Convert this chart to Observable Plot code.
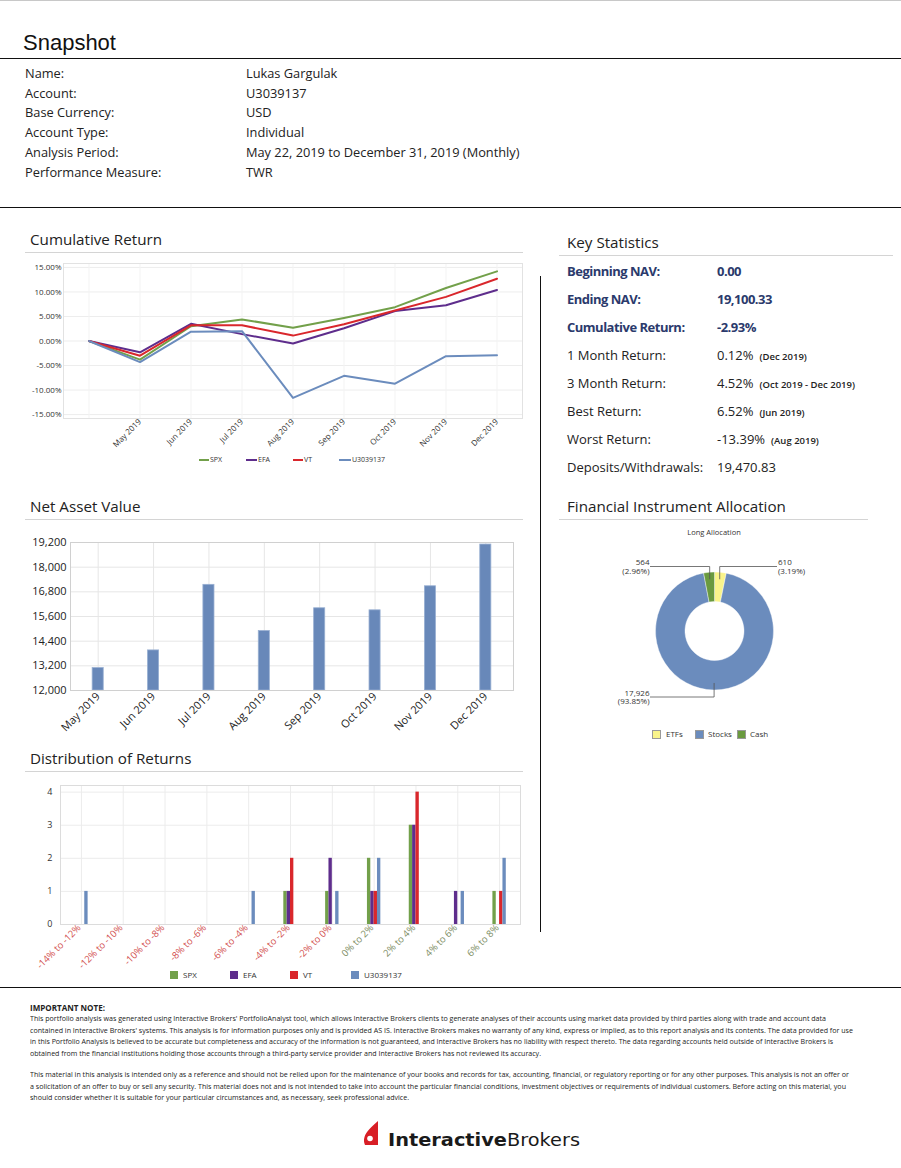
<!DOCTYPE html>
<html><head><meta charset="utf-8">
<script src="https://cdn.jsdelivr.net/npm/d3@7"></script>
<script src="https://cdn.jsdelivr.net/npm/@observablehq/plot@0.6"></script>
<style>
html,body{margin:0;padding:0;background:#fff}
body{width:901px;height:1168px;position:relative;overflow:hidden;font-family:"Open Sans",sans-serif;color:#222}
.a{position:absolute;white-space:nowrap}
.hr{position:absolute;left:0;width:901px;height:1px;background:#111}
.sec{position:absolute;font-size:15.2px;line-height:20px;color:#222;white-space:nowrap}
.ul{position:absolute;height:1px;background:#d4d4d4}
.row{position:absolute;font-size:12.8px;line-height:20px;white-space:nowrap}
.ks{position:absolute;font-size:13px;line-height:28px;white-space:nowrap}
.ks.b{font-weight:700;color:#2b3a6c;letter-spacing:-0.5px}
.sm{font-size:9.5px;font-weight:600;margin-left:6px;letter-spacing:0}
.note{position:absolute;left:30px;font-size:7.5px;line-height:11px;white-space:nowrap;transform-origin:0 50%;color:#222}
.lg{position:absolute;white-space:nowrap;color:#333}
</style></head><body>
<div class="a" style="left:0;top:0;width:901px;height:1px;background:#c8c8c8"></div>
<div class="a" style="left:23px;top:29.5px;font-family:'Liberation Sans',Arial,sans-serif;font-size:22px;line-height:26px;color:#111">Snapshot</div>
<div class="hr" style="top:58px"></div>
<div class="hr" style="top:207px"></div>
<div class="hr" style="top:987px"></div>
<div class="a" style="left:540px;top:276px;width:1px;height:656px;background:#111"></div>

<div class="sec" style="left:30px;top:228.5px">Cumulative Return</div>
<div class="ul" style="left:25px;top:252px;width:498px"></div>
<div class="sec" style="left:30px;top:495.5px">Net Asset Value</div>
<div class="ul" style="left:25px;top:519px;width:498px"></div>
<div class="sec" style="left:30px;top:747.5px">Distribution of Returns</div>
<div class="ul" style="left:25px;top:771px;width:498px"></div>
<div class="sec" style="left:567px;top:231.5px">Key Statistics</div>
<div class="ul" style="left:559px;top:255px;width:334px"></div>
<div class="sec" style="left:567px;top:495.5px">Financial Instrument Allocation</div>
<div class="ul" style="left:559px;top:519px;width:309px"></div>

<div id="cum" class="a" style="left:20px;top:255px"></div>
<div id="nav" class="a" style="left:20px;top:530px"></div>
<div id="dist" class="a" style="left:20px;top:780px"></div>
<div id="pie" class="a" style="left:555px;top:520px"></div>
<div class="a" style="left:674px;top:527px;width:80px;text-align:center;font-size:7.5px;line-height:10px;color:#333">Long Allocation</div>

<svg class="a" style="left:362px;top:1121px" width="18" height="24" viewBox="0 0 18 24">
<path d="M16 0 C10 5 4 11 2.5 16 C1.5 19 2 22 3 24 L16 24 Z" fill="#d81e26"/>
<circle cx="8" cy="17.5" r="2.8" fill="#fff"/>
</svg>
<div id="logo" class="a" style="left:388px;top:1130px;font-family:'DejaVu Sans',sans-serif;font-size:17.5px;line-height:20px;color:#1a1a1a;transform-origin:0 50%"><b>Interactive</b>Brokers</div>

<script>
// ---------- DATA ----------
const infoLabels = ["Name:", "Account:", "Base Currency:", "Account Type:", "Analysis Period:", "Performance Measure:"];
const infoValues = ["Lukas Gargulak", "U3039137", "USD", "Individual", "May 22, 2019 to December 31, 2019 (Monthly)", "TWR"];

const statLabels = ["Beginning NAV:", "Ending NAV:", "Cumulative Return:", "1 Month Return:", "3 Month Return:", "Best Return:", "Worst Return:", "Deposits/Withdrawals:"];
const statValues = ["0.00", "19,100.33", "-2.93%", "0.12%", "4.52%", "6.52%", "-13.39%", "19,470.83"];
const statNotes = ["", "", "", "(Dec 2019)", "(Oct 2019 - Dec 2019)", "(Jun 2019)", "(Aug 2019)", ""];

const seriesNames = ["SPX", "EFA", "VT", "U3039137"];
const seriesColors = ["#72a04a", "#5e2d8c", "#d9272c", "#6b8cbd"];

const cumPeriods = ["Start", "May 2019", "Jun 2019", "Jul 2019", "Aug 2019", "Sep 2019", "Oct 2019", "Nov 2019", "Dec 2019"];
const spxCum = [0, -3.8, 3.0, 4.4, 2.7, 4.7, 6.9, 10.8, 14.2];
const efaCum = [0, -2.3, 3.5, 1.4, -0.5, 2.6, 6.1, 7.3, 10.4];
const vtCum = [0, -3.0, 3.2, 3.2, 1.1, 3.4, 6.2, 9.0, 12.7];
const acctCum = [0, -4.3, 1.9, 2.0, -11.6, -7.1, -8.7, -3.1, -2.9];
const cumTicks = [-15, -10, -5, 0, 5, 10, 15];

const navMonths = ["May 2019", "Jun 2019", "Jul 2019", "Aug 2019", "Sep 2019", "Oct 2019", "Nov 2019", "Dec 2019"];
const navValues = [13090, 13950, 17140, 14890, 16000, 15900, 17070, 19100];
const navTicks = [12000, 13200, 14400, 15600, 16800, 18000, 19200];

const distBins = ["-14% to -12%", "-12% to -10%", "-10% to -8%", "-8% to -6%", "-6% to -4%", "-4% to -2%", "-2% to 0%", "0% to 2%", "2% to 4%", "4% to 6%", "6% to 8%"];
const distSPX = [0, 0, 0, 0, 0, 1, 1, 2, 3, 0, 1];
const distEFA = [0, 0, 0, 0, 0, 1, 2, 1, 3, 1, 0];
const distVT = [0, 0, 0, 0, 0, 2, 0, 1, 4, 0, 1];
const distAcct = [1, 0, 0, 0, 1, 0, 1, 2, 0, 1, 2];
const distTicks = [0, 1, 2, 3, 4];

const allocNames = ["ETFs", "Stocks", "Cash"];
const allocValues = [610, 17926, 564];
const allocPct = ["3.19%", "93.85%", "2.96%"];
const allocColors = ["#f9f48b", "#6b8cbd", "#6a9a3f"];

const noteTitle = "IMPORTANT NOTE:";
const noteLines = [
  "This portfolio analysis was generated using Interactive Brokers' PortfolioAnalyst tool, which allows Interactive Brokers clients to generate analyses of their accounts using market data provided by third parties along with trade and account data",
  "contained in Interactive Brokers' systems. This analysis is for information purposes only and is provided AS IS. Interactive Brokers makes no warranty of any kind, express or implied, as to this report analysis and its contents. The data provided for use",
  "in this Portfolio Analysis is believed to be accurate but completeness and accuracy of the information is not guaranteed, and Interactive Brokers has no liability with respect thereto. The data regarding accounts held outside of Interactive Brokers is",
  "obtained from the financial institutions holding those accounts through a third-party service provider and Interactive Brokers has not reviewed its accuracy.",
  "This material in this analysis is intended only as a reference and should not be relied upon for the maintenance of your books and records for tax, accounting, financial, or regulatory reporting or for any other purposes. This analysis is not an offer or",
  "a solicitation of an offer to buy or sell any security. This material does not and is not intended to take into account the particular financial conditions, investment objectives or requirements of individual customers. Before acting on this material, you",
  "should consider whether it is suitable for your particular circumstances and, as necessary, seek professional advice."
];

// ---------- LAYOUT HELPERS ----------
const FONT = "'Open Sans', sans-serif";
function add(html, cls, style) {
  const d = document.createElement("div");
  d.className = cls; d.style.cssText = style; d.innerHTML = html;
  document.body.appendChild(d); return d;
}

infoLabels.forEach((t, i) => {
  const top = 62.6 + 19.9 * i;
  add(t, "row", `left:25px;top:${top}px`);
  add(infoValues[i], "row", `left:246px;top:${top}px`);
});

statLabels.forEach((t, i) => {
  const top = 256.6 + 28 * i;
  const bold = i < 3 ? " b" : "";
  add(t, "ks" + bold, `left:567px;top:${top}px`);
  add(statValues[i] + (statNotes[i] ? `<span class="sm">${statNotes[i]}</span>` : ""), "ks" + bold, `left:717px;top:${top}px`);
});

// ---------- CUMULATIVE RETURN ----------
const cumSeries = [spxCum, efaCum, vtCum, acctCum];
const cumData = [];
cumSeries.forEach((arr, s) => arr.forEach((v, j) => cumData.push({series: seriesNames[s], period: cumPeriods[j], value: v})));
document.getElementById("cum").appendChild(Plot.plot({
  width: 510, height: 215, marginTop: 8, marginRight: 8, marginBottom: 52, marginLeft: 43,
  style: {fontFamily: FONT, fontSize: "8px", color: "#333", background: "transparent"},
  x: {type: "point", domain: cumPeriods, padding: 0.5, round: false, label: null, tickSize: 0, tickPadding: 2, tickRotate: -45,
      tickFormat: d => d === cumPeriods[0] ? "" : d},
  y: {domain: [-15.8, 15.8], ticks: cumTicks, tickFormat: d => d.toFixed(2) + "%", label: null, tickSize: 0, tickPadding: 2},
  color: {domain: seriesNames, range: seriesColors},
  marks: [
    Plot.ruleY(cumTicks, {stroke: "#ededed"}),
    Plot.ruleX(cumPeriods, {stroke: "#f3f3f3"}),
    Plot.frame({stroke: "#e2e2e2"}),
    Plot.line(cumData, {x: "period", y: "value", z: "series", stroke: "series", strokeWidth: 2})
  ]
}));
const cumLegendPos = [[199, 210], [246, 258], [293, 304], [339, 352]];
seriesNames.forEach((s, i) => {
  const [lx, tx] = cumLegendPos[i];
  add("", "lg", `left:${lx}px;top:458.5px;width:${tx - lx - 1}px;height:2px;background:${seriesColors[i]}`);
  add(s, "lg", `left:${tx}px;top:454.5px;font-size:7px;line-height:10px`);
});

// ---------- NET ASSET VALUE ----------
const navData = navMonths.map((m, i) => ({month: m, value: navValues[i]}));
document.getElementById("nav").appendChild(Plot.plot({
  width: 500, height: 230, marginTop: 12, marginRight: 7, marginBottom: 70, marginLeft: 50,
  style: {fontFamily: FONT, fontSize: "11px", color: "#222", background: "transparent"},
  x: {type: "band", domain: navMonths, paddingInner: 0.8, paddingOuter: 0.4, round: false, label: null, tickSize: 0, tickPadding: 4, tickRotate: -45},
  y: {domain: [12000, 19200], ticks: navTicks, tickFormat: d3.format(","), label: null, tickSize: 0, tickPadding: 4},
  marks: [
    Plot.ruleY(navTicks, {stroke: "#e6e6e6"}),
    Plot.ruleX(navMonths, {stroke: "#e6e6e6"}),
    Plot.barY(navData, {x: "month", y1: 12000, y2: "value", fill: "#6888b9", stroke: "#98afd2", strokeWidth: 0.8}),
    Plot.frame({stroke: "#d0d0d0"})
  ]
}));

// ---------- DISTRIBUTION OF RETURNS ----------
const distSeries = [distSPX, distEFA, distVT, distAcct];
const distData = [];
distSeries.forEach((arr, s) => arr.forEach((v, j) => distData.push({series: seriesNames[s], bin: distBins[j], count: v})));
const distW = 460, barPad = 0.92;
const barW = distW / distBins.length * (1 - barPad);
const negBins = distBins.filter(b => b.startsWith("-"));
const posBins = distBins.filter(b => !b.startsWith("-"));
document.getElementById("dist").appendChild(Plot.plot({
  width: 510, height: 194, marginTop: 5, marginRight: 10, marginBottom: 50, marginLeft: 40,
  style: {fontFamily: FONT, fontSize: "9px", color: "#333", background: "transparent"},
  x: {type: "band", domain: distBins, paddingInner: barPad, paddingOuter: barPad / 2, round: false, axis: null},
  y: {domain: [0, 4.2], ticks: distTicks, tickFormat: d3.format("d"), label: null, tickSize: 0, tickPadding: 8},
  marks: [
    Plot.ruleY(distTicks, {stroke: "#ececec"}),
    Plot.ruleX(distBins, {stroke: "#ececec"}),
    ...seriesNames.map((s, i) => Plot.barY(distData.filter(d => d.series === s && d.count > 0),
      {x: "bin", y: "count", fill: seriesColors[i], dx: (i - 1.5) * barW})),
    Plot.text(negBins, {x: d => d, text: d => d, frameAnchor: "bottom", rotate: -45, textAnchor: "end", dy: 4, dx: 0, fill: "#d2504f", fontSize: 9.5}),
    Plot.text(posBins, {x: d => d, text: d => d, frameAnchor: "bottom", rotate: -45, textAnchor: "end", dy: 4, dx: 0, fill: "#7c8c62", fontSize: 9.5}),
    Plot.frame({stroke: "#dcdcdc"})
  ]
}));
const distLegendPos = [[170, 183], [230, 243], [290, 303], [351, 364]];
seriesNames.forEach((s, i) => {
  const [sx, tx] = distLegendPos[i];
  add("", "lg", `left:${sx}px;top:971px;width:8px;height:8px;background:${seriesColors[i]}`);
  add(s, "lg", `left:${tx}px;top:970px;font-size:8px;line-height:10px`);
});

// ---------- ALLOCATION DONUT ----------
const allocData = allocNames.map((n, i) => ({name: n, value: allocValues[i], pct: allocPct[i]}));
function donut(index, scales, values, dimensions) {
  const cx = 159.5, cy = 111, r0 = 29.5, r1 = 59;
  const color = scales && scales.color ? scales.color : (n => allocColors[allocNames.indexOf(n)]);
  const arcs = d3.pie().sort(null).value(d => d.value)(allocData);
  const arc = d3.arc().innerRadius(r0).outerRadius(r1);
  const g = d3.create("svg:g").attr("transform", `translate(${cx},${cy})`);
  g.selectAll("path").data(arcs).join("path").attr("d", arc)
    .attr("fill", d => color(d.data.name)).attr("stroke", "#fff").attr("stroke-width", 0.4);
  const fmt = d3.format(",");
  arcs.forEach(a => {
    const mid = (a.startAngle + a.endAngle) / 2;
    const sx = 52 * Math.sin(mid), sy = -52 * Math.cos(mid);
    const ey = Math.cos(mid) > 0 ? -64.5 : 66;
    const right = Math.sin(mid) > 0.01;
    const ex = right ? 62.5 : -64.5;
    g.append("path").attr("d", `M${sx},${sy}L${sx},${ey}L${ex},${ey}`)
      .attr("fill", "none").attr("stroke", "#555").attr("stroke-width", 0.8);
    const t = g.append("text").attr("font-size", 8).attr("fill", "#333")
      .attr("text-anchor", right ? "start" : "end").attr("font-family", FONT);
    const tx = right ? 63.5 : -65;
    t.append("tspan").attr("x", tx).attr("y", ey - 4.2).attr("dy", "0.35em").text(fmt(a.data.value));
    t.append("tspan").attr("x", tx).attr("y", ey + 4.6).attr("dy", "0.35em").text(`(${a.data.pct})`);
  });
  return g.node();
}
document.getElementById("pie").appendChild(Plot.plot({
  width: 320, height: 230, margin: 0,
  style: {fontFamily: FONT, background: "transparent"},
  color: {domain: allocNames, range: allocColors},
  marks: [donut]
}));
const pieLegendPos = [[652, 666], [695, 708], [737, 750]];
allocNames.forEach((n, i) => {
  const [sx, tx] = pieLegendPos[i];
  add("", "lg", `left:${sx}px;top:729.5px;width:9px;height:9px;box-sizing:border-box;border:0.5px solid #999;background:${allocColors[i]}`);
  add(n, "lg", `left:${tx}px;top:729px;font-size:8px;line-height:10px`);
});

// ---------- NOTES ----------
const noteTops = [1018.5, 1030, 1041.5, 1053, 1074.5, 1086, 1097.5];
const noteWidths = [796, 823, 803, 511, 819, 816, 379];
const fitEls = [];
const tEl = add(noteTitle, "note", `top:1001.5px;font-weight:700;font-size:8.5px`);
fitEls.push([tEl, 75]);
noteLines.forEach((t, i) => {
  const el = add(t, "note", `top:${noteTops[i] - 5.5}px`);
  fitEls.push([el, noteWidths[i]]);
});
fitEls.push([document.getElementById("logo"), 192]);
function fit() {
  fitEls.forEach(([el, w]) => {
    el.style.transform = "none";
    const cw = el.getBoundingClientRect().width;
    if (cw > 0) el.style.transform = `scaleX(${w / cw})`;
  });
}
fit();
if (document.fonts && document.fonts.ready) document.fonts.ready.then(fit);
</script>
</body></html>
